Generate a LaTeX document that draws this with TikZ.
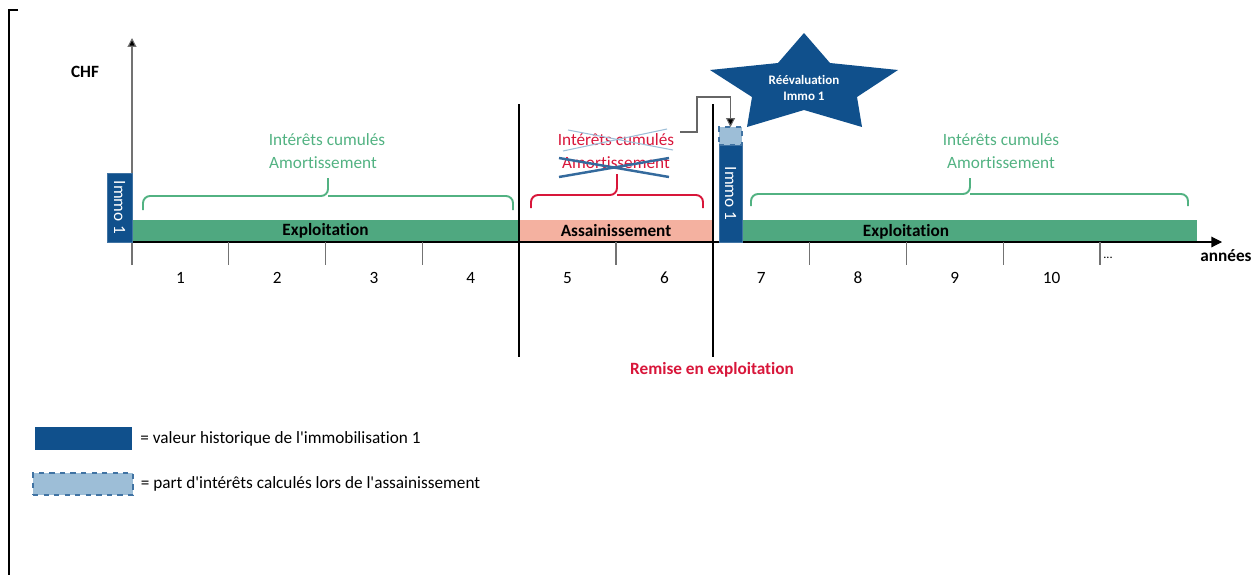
\documentclass[tikz,border=0pt]{standalone}
\usepackage{fontspec}
\setmainfont{Carlito}[Ligatures={TeXOff,CommonOff}]
\usepackage{tikz}
\usetikzlibrary{positioning,arrows.meta}

\definecolor{immoblue}{RGB}{16,80,140}
\definecolor{partblue}{RGB}{157,190,215}
\definecolor{barGreen}{RGB}{79,168,128}
\definecolor{txtGreen}{RGB}{82,178,130}
\definecolor{barPink}{RGB}{244,177,160}
\definecolor{txtRed}{RGB}{216,22,58}

\begin{document}
\begin{tikzpicture}
[x=0.02cm, y=-0.02cm,
 font=\fontsize{9.8}{12}\selectfont,
 bar/.style ={rectangle, inner sep=0pt, outer sep=0pt, minimum height=0.44cm, font=\fontsize{9.8}{12}\selectfont\bfseries},
 immo/.style ={rectangle, fill=immoblue, draw=immoblue!80!white, inner sep=0pt, outer sep=0pt, text=white, rotate=-90},
 part/.style ={rectangle, fill=partblue, draw=immoblue!80, dashed, thick, inner sep=0pt, outer sep=0pt},
 green/.style ={text=txtGreen},
 red/.style ={text=txtRed},
 brace/.style ={draw, line width=1.1pt, rounded corners=4pt},
 conn/.style ={draw=black!60, semithick, -{Triangle[length=5pt,width=5pt,fill=black]}},
 label/.style ={font=\fontsize{9.8}{12}\selectfont\bfseries}]
\useasboundingbox (0,0) rectangle (1257,575);
% frame on the left
\draw[line width=1.7pt] (18,10) -- (9,10) -- (9,575);

% axes
\coordinate (O) at (132,242);
\draw[draw=black!55, semithick, -{Triangle[length=5pt,width=5pt,fill=black]}] (132,265) -- (132,38) coordinate (ytop);
\draw (85,72) node[label] (chf) {CHF};

% bars
\draw (325.5,231) node[bar, fill=barGreen, minimum width=7.74cm] (exp1) {Exploitation};
\draw (616,231) node[bar, fill=barPink, minimum width=3.88cm] (ass) {Assainissement};
\draw (969.5,231) node[bar, fill=barGreen, minimum width=9.1cm] (exp2) {};
\draw (906,232) node[label] (exp2lbl) {Exploitation};
\draw[black, semithick, -{Triangle[length=6pt,width=6pt]}] (O) -- (1222,242) coordinate (xend);
\draw (1226,256) node[label] (annees) {années};

% ticks and years
\foreach \i in {0,...,10}
  \draw[black!55, semithick] (132+96.8*\i,242) -- (132+96.8*\i,265);
\foreach \i in {1,...,10}
  \draw (132+96.8*\i-48.4,278) node (y\i) {\i};
\draw (1108,258) node[font=\scriptsize] (dots) {...};

% immobilisation
\draw (119.5,207.5) node[immo, minimum width=1.38cm, minimum height=0.5cm] (immoA) {Immo 1};
\draw (730.5,193.5) node[immo, minimum width=1.94cm, minimum height=0.46cm] (immoB) {Immo 1};
\draw (730.5,136) node[part, minimum width=0.46cm, minimum height=0.36cm] (part) {};

% phase separators
\draw[line width=1.1pt] (519,104) -- (519,357);
\draw[line width=1.1pt] (713,104) -- (713,357);
\draw (712,370) node[label, red] (remise) {Remise en exploitation};

% left phase
\draw (327,140) node[green] (int1) {Intérêts cumulés};
\draw (323,163) node[green] (am1) {Amortissement};
\draw[brace, txtGreen] (143,210) -- (143,196) -- (328,196) -- (328,178);
\draw[brace, txtGreen] (328,196) -- (513,196) -- (513,210);

% assainissement
\draw (616,140) node[red] (int2) {Intérêts cumulés};
\draw (616,163) node[red] (am2) {Amortissement};
\draw[partblue, semithick] (568,130) -- (673,150);
\draw[partblue, semithick] (563,151) -- (667,129);
\draw[immoblue!85, line width=1.4pt] (559,158) -- (669,177);
\draw[immoblue!85, line width=1.4pt] (559,177) -- (669,158);
\draw[brace, txtRed] (531,208) -- (531,195) -- (617,195) -- (617,174);
\draw[brace, txtRed] (617,195) -- (703,195) -- (703,208);

% right phase
\draw (1001,140) node[green] (int3) {Intérêts cumulés};
\draw (1001,163) node[green] (am3) {Amortissement};
\draw[brace, txtGreen] (751,206) -- (751,194) -- (970,194) -- (970,178);
\draw[brace, txtGreen] (970,194) -- (1188,194) -- (1188,206);

% reevaluation
\coordinate (bend) at (697,97);
\draw[conn] ([yshift=0.16cm]int2.east) -| (bend) -| (part.north);
\fill[immoblue] (804,33) -- (830,63) -- (898,70) -- (857,97) -- (862,127)
  -- (804,110) -- (747,127) -- (752,97) -- (710,70) -- (778,63) -- cycle;
\draw (804,88) node[align=center, text=white, font=\fontsize{7.4}{9}\selectfont\bfseries] (reeval) {Réévaluation\\Immo 1};

% legend
\draw (83.5,438.5) node[rectangle, fill=immoblue, minimum width=1.94cm, minimum height=0.46cm, inner sep=0pt] (leg1) {};
\node[right=1pt of leg1] (leg1txt) {= valeur historique de l'immobilisation 1};
\draw (83,484) node[part, minimum width=2cm, minimum height=0.44cm] (leg2) {};
\node[right=1pt of leg2] (leg2txt) {= part d'intérêts calculés lors de l'assainissement};
\end{tikzpicture}
\end{document}
